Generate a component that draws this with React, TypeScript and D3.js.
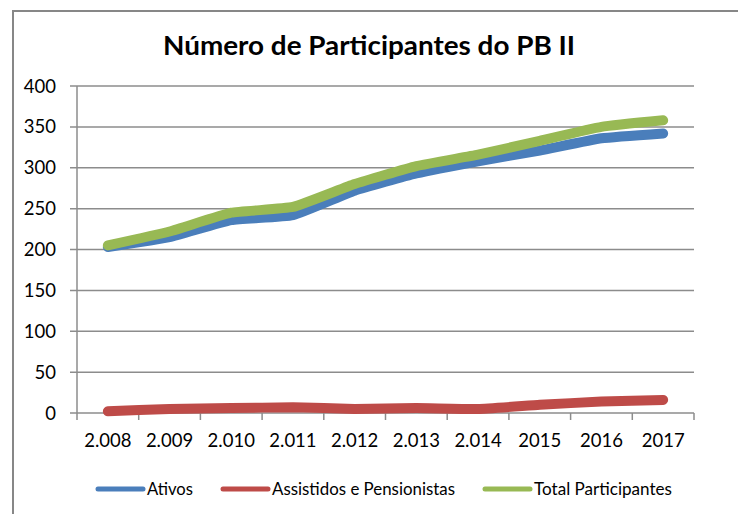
import React from "react";
import * as d3 from "d3";

const years = ["2.008", "2.009", "2.010", "2.011", "2.012", "2.013", "2.014", "2015", "2016", "2017"];
const ativos = [203, 215, 236, 242, 272, 293, 308, 321, 336, 342];
const assistidos = [2, 5, 6, 7, 5, 6, 5, 10, 14, 16];
const total = [205, 222, 245, 252, 280, 302, 316, 333, 350, 358];
const yTicks = [0, 50, 100, 150, 200, 250, 300, 350, 400];
const seriesNames = ["Ativos", "Assistidos e Pensionistas", "Total Participantes"];
const seriesColors = ["#4A7EBB", "#BE4B48", "#98B954"];

const W = 738;
const H = 514;
const FONT = "Lato, 'Open Sans', sans-serif";

export default function App() {
  const x = d3.scaleBand<string>().domain(years).range([77, 694]);
  const y = d3.scaleLinear().domain([0, 400]).range([413, 86]);
  const line = d3
    .line<number>()
    .x((_, i) => (x(years[i]) as number) + x.bandwidth() / 2)
    .y((d) => y(d))
    .curve(d3.curveCardinal.tension(0.6));
  const series = [ativos, assistidos, total];
  const legendX = [98, 223, 485];
  const legendW = [46, 183, 138];

  return (
    <svg width={W} height={H} style={{ position: "absolute", left: 0, top: 0 }}>
      <rect x={0} y={0} width={W} height={H} fill="#fff" />
      <rect x={13} y={11} width={W + 20} height={H + 20} fill="none" stroke="#878787" strokeWidth={2} />
      <text
        x={369}
        y={55}
        textAnchor="middle"
        fontFamily={FONT}
        fontWeight="bold"
        fontSize={26}
        fill="#000"
        textLength={412}
        lengthAdjust="spacingAndGlyphs"
      >
        Número de Participantes do PB II
      </text>
      {yTicks.map((t) => (
        <g key={t}>
          <line x1={70} x2={694} y1={y(t)} y2={y(t)} stroke="#8c8c8c" strokeWidth={1.5} />
          <text x={56} y={y(t) + 6.5} textAnchor="end" fontFamily={FONT} fontSize={18.5} fill="#000">
            {t}
          </text>
        </g>
      ))}
      <line x1={77} x2={77} y1={y(400)} y2={420} stroke="#8c8c8c" strokeWidth={1.5} />
      {years.map((yr) => (
        <g key={yr}>
          <line
            x1={(x(yr) as number) + x.bandwidth()}
            x2={(x(yr) as number) + x.bandwidth()}
            y1={413}
            y2={420}
            stroke="#8c8c8c"
            strokeWidth={1.5}
          />
          <text
            x={(x(yr) as number) + x.bandwidth() / 2}
            y={447}
            textAnchor="middle"
            fontFamily={FONT}
            fontSize={18.5}
            fill="#000"
          >
            {yr}
          </text>
        </g>
      ))}
      {series.map((s, i) => (
        <path
          key={i}
          d={line(s) as string}
          fill="none"
          stroke={seriesColors[i]}
          strokeWidth={10}
          strokeLinecap="round"
          strokeLinejoin="round"
        />
      ))}
      {seriesNames.map((n, i) => (
        <g key={n}>
          <line
            x1={legendX[i]}
            x2={legendX[i] + 45}
            y1={489}
            y2={489}
            stroke={seriesColors[i]}
            strokeWidth={5}
            strokeLinecap="round"
          />
          <text
            x={legendX[i] + 49}
            y={495}
            fontFamily={FONT}
            fontSize={16.5}
            fill="#000"
            textLength={legendW[i]}
            lengthAdjust="spacingAndGlyphs"
          >
            {n}
          </text>
        </g>
      ))}
    </svg>
  );
}
